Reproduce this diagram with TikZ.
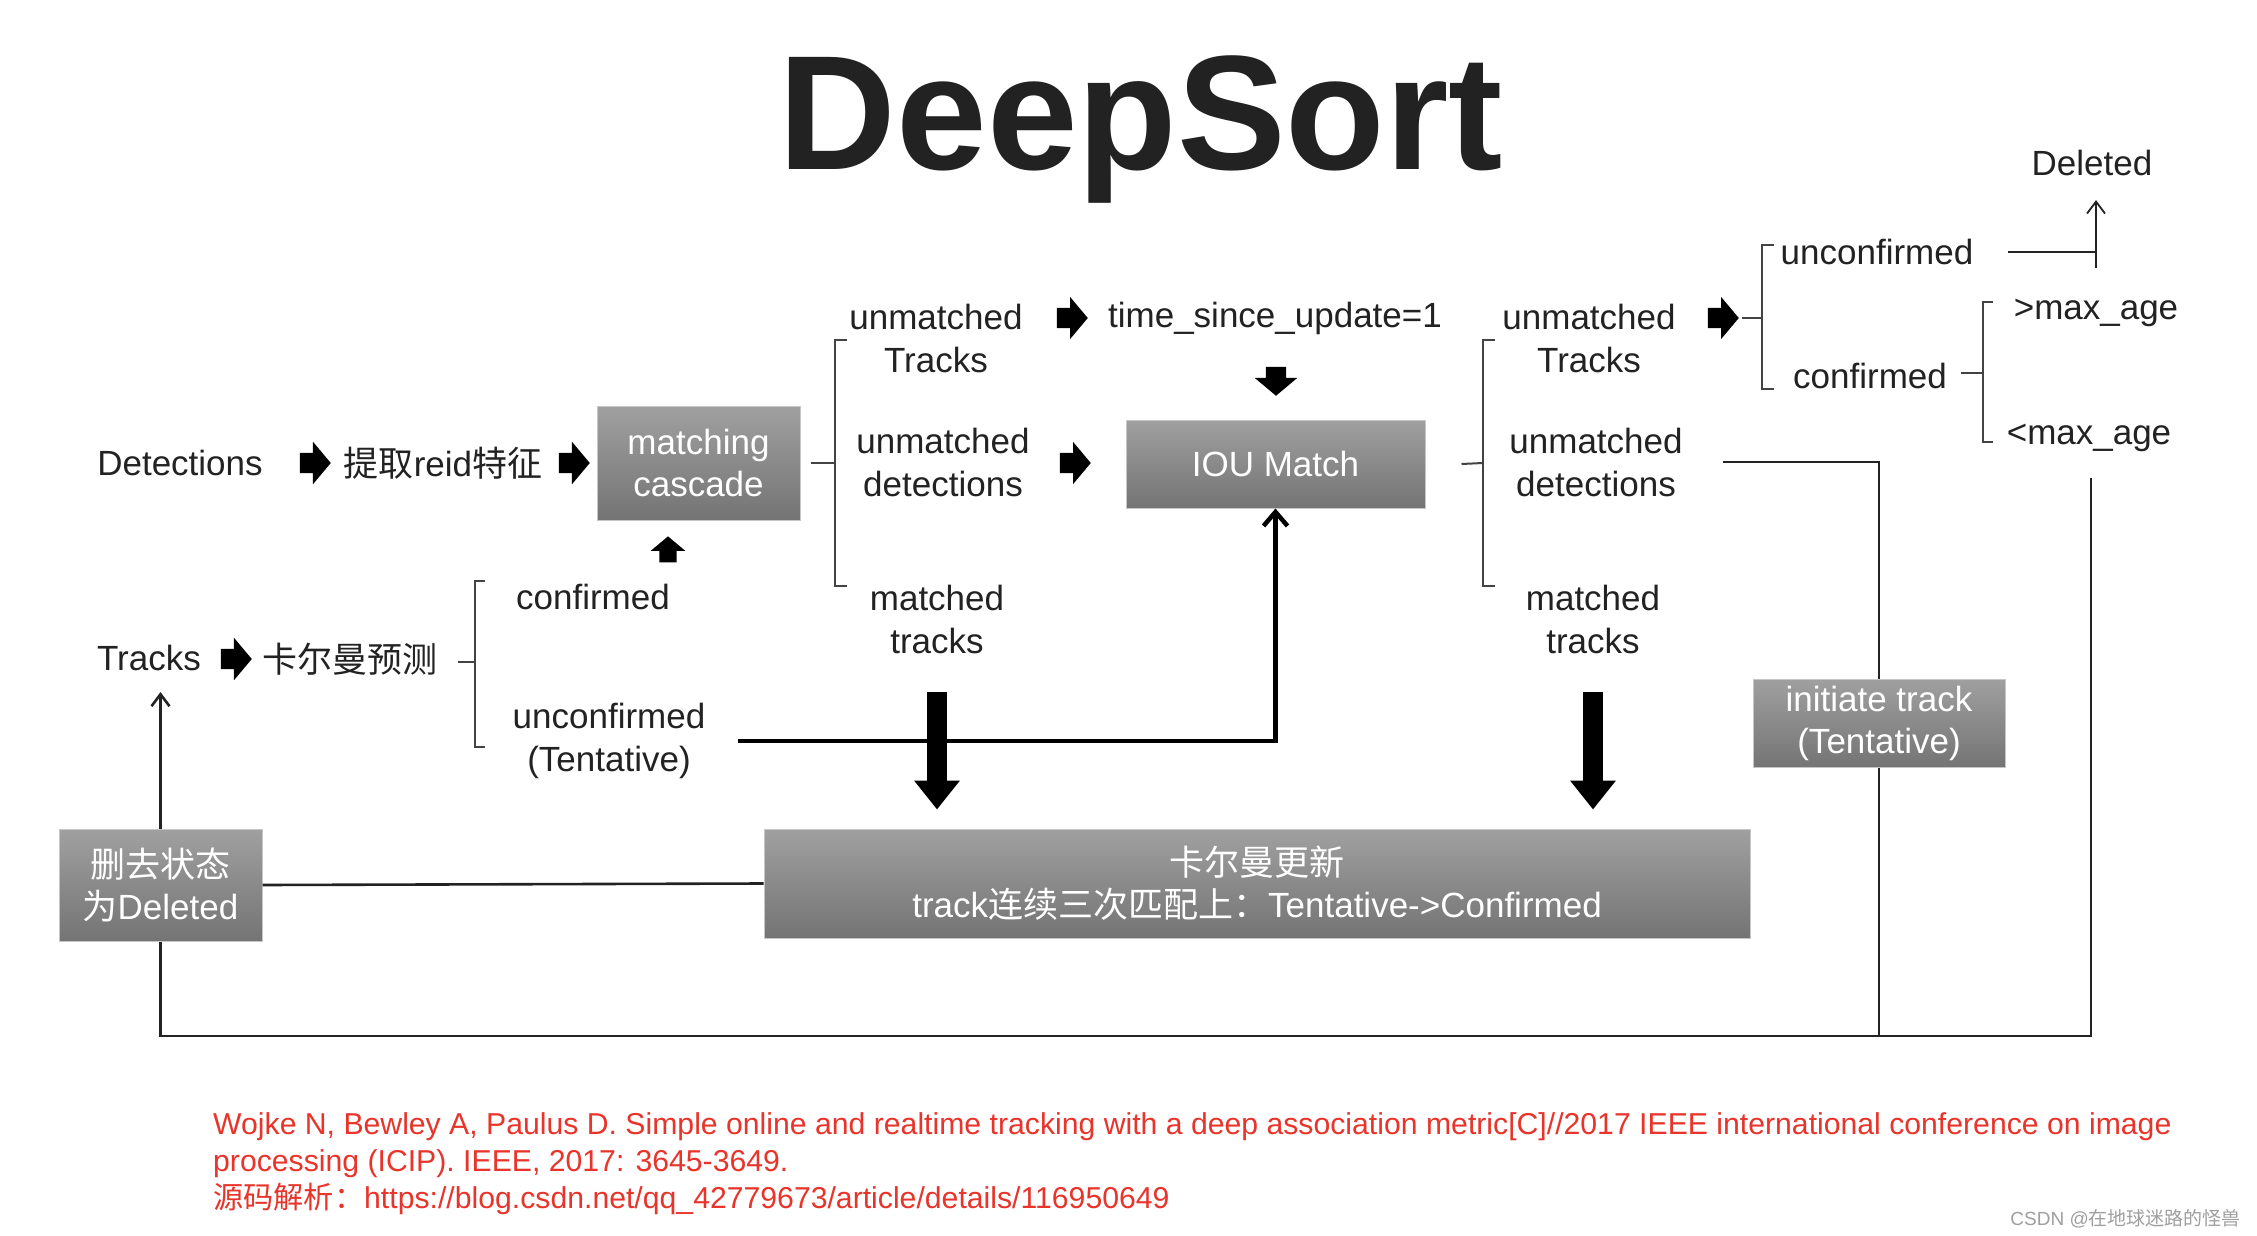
\documentclass[tikz,border=0pt]{standalone}
\usepackage{fontspec}
\setmainfont{Liberation Sans}
\newfontfamily\cjk{Noto Sans CJK SC}
\usetikzlibrary{shapes.arrows,arrows.meta}
\definecolor{txt}{RGB}{34,34,34}
\definecolor{boxtop}{RGB}{160,160,160}
\definecolor{boxbot}{RGB}{116,116,116}
\definecolor{refred}{RGB}{232,52,42}
\tikzset{
  lbl/.style={text=txt, font=\fontsize{35}{43}\selectfont, align=center, inner sep=0pt},
  gbox/.style={top color=boxtop, bottom color=boxbot, draw=boxtop!60!white, line width=1pt,
    text=white, font=\fontsize{35}{42}\selectfont, align=center, inner sep=0pt},
  rarrow/.style={single arrow, fill=black, draw=none, inner sep=0pt, minimum height=31pt,
    single arrow head extend=11pt, single arrow tip angle=100},
  brk/.style={line width=2pt, draw=txt!85!white},
  fat/.style={line width=20pt, draw=black, -{Triangle[width=44pt,length=29pt]}},
  flow/.style={line width=2.6pt, draw=txt},
  thinflow/.style={line width=1.8pt, draw=txt},
  barb/.style={-{Straight Barb[length=12pt,width=18pt]}},
  heavy/.style={line width=4.5pt, draw=black, -{Straight Barb[length=14pt,width=24pt]}}
}
\newcommand{\shaft}[1]{\rule{0pt}{#1}}
\begin{document}
\begin{tikzpicture}[x=1pt,y=-1pt]
\useasboundingbox (0,0) rectangle (2257,1236);
\fill[white] (0,0) rectangle (2257,1236);

\node[font=\fontsize{163}{165}\selectfont\bfseries, text=txt, anchor=base, inner sep=0pt] (title) at (1141,170) {DeepSort};

% row 1
\node[lbl] (det) at (180,463) {Detections};
\node[rarrow] (a1) at (311,463) {\shaft{20pt}};
\node[lbl] (reid) at (443,463) {{\cjk 提取}reid{\cjk 特征}};
\node[rarrow] (a2) at (570,463) {\shaft{20pt}};
\node[gbox, minimum width=203pt, minimum height=114pt] (mc) at (698.5,463) {matching\\cascade};

\draw[brk] ([xshift=10pt]mc.east) -- (835,463);
\draw[brk] (847,340) -- (835,340) -- (835,586) -- (847,586);

\node[lbl] (ut1) at (936,338) {unmatched\\Tracks};
\node[rarrow] (a3) at (1068,318) {\shaft{20pt}};
\node[lbl] (tsu) at (1275,318) {time\_since\_update=1};
\node[rarrow, minimum height=29pt, rotate=270] (a4) at (1276,377) {\shaft{20pt}};
\node[lbl] (ud1) at (943,462) {unmatched\\detections};
\node[rarrow] (a5) at (1071,463) {\shaft{20pt}};
\node[gbox, minimum width=299pt, minimum height=88pt] (iou) at (1275.5,464) {IOU Match};
\node[lbl] (mt1) at (937,619) {matched\\tracks};
\node[rarrow, single arrow head extend=8.5pt, minimum height=26pt, rotate=90] (a6) at (668,553) {\shaft{17pt}};

% tracks row
\node[lbl] (tracks) at (149,658) {Tracks};
\node[rarrow] (a7) at (232,659) {\shaft{20pt}};
\node[lbl] (kp) at (350,659) {\cjk 卡尔曼预测};
\draw[brk] (458,662) -- (475,662);
\draw[brk] (485,581) -- (475,581) -- (475,747) -- (485,747);
\node[lbl] (cf1) at (593,597) {confirmed};
\node[lbl] (uc1) at (609,741) {unconfirmed\\(Tentative)};

\draw[heavy] ([xshift=32pt]uc1.east) -| (iou.south);

% second group
\draw[brk] ([xshift=36pt]iou.east) -- (1483,463);
\draw[brk] (1495,340) -- (1483,340) -- (1483,586) -- (1495,586);
\node[lbl] (ut2) at (1589,338) {unmatched\\Tracks};
\node[rarrow] (a8) at (1719,318) {\shaft{20pt}};
\draw[brk] (1742,318) -- (1762,318);
\draw[brk] (1774,245) -- (1762,245) -- (1762,389) -- (1774,389);
\node[lbl] (uc2) at (1877,252) {unconfirmed};
\node[lbl] (cf2) at (1870,376) {confirmed};
\draw[brk] (1961,373) -- (1983,373);
\draw[brk] (1993,302) -- (1983,302) -- (1983,442) -- (1993,442);
\node[lbl] (gt) at (2096,313) {>max\_age};
\node[lbl] (lt) at (2089,438) {<max\_age};
\node[lbl] (deleted) at (2092,163) {Deleted};

\coordinate (dj) at (2096,268);
\draw[thinflow] ([xshift=34pt]uc2.east) -- (uc2.east -| dj);
\draw[thinflow, barb, shorten >=24pt] (dj) -- (dj |- deleted.south);

\node[lbl] (ud2) at (1596,462) {unmatched\\detections};
\node[lbl] (mt2) at (1593,619) {matched\\tracks};

% boxes
\node[gbox, minimum width=252pt, minimum height=88pt] (init) at (1879,723) {initiate track\\(Tentative)};
\node[gbox, minimum width=986pt, minimum height=109pt] (kal) at (1257,883.5) {{\cjk 卡尔曼更新}\\track{\cjk 连续三次匹配上：}Tentative->Confirmed};
\node[gbox, minimum width=203pt, minimum height=112pt] (del) at (160.5,885) {{\cjk 删去状态}\\{\cjk 为}Deleted};

% fat arrows
\draw[fat, shorten <=38pt, shorten >=19pt] (mt1.south) -- (mt1.south |- kal.north);
\draw[fat, shorten <=38pt, shorten >=19pt] (mt2.south) -- (mt2.south |- kal.north);

% loops
\coordinate (bl) at (161,1036);
\coordinate (br) at (2091,1036);
\coordinate (brt) at (2091,478);
\draw[flow] ([xshift=40pt]ud2.east) -| (init.north);
\draw[flow] (init.south) -- (init.south |- bl);
\draw[flow] (brt) -- (br) -| (del.south);
\draw[flow] (kal.west) -- (del.east);
\draw[flow, barb, shorten >=21pt] (del.north) -- (del.north |- tracks.south);

% reference
\node[anchor=north west, align=left, inner sep=0pt, text=refred, font=\fontsize{30.2}{37}\selectfont] (ref) at (213,1112)
 {Wojke N, Bewley A, Paulus D. Simple online and realtime tracking with a deep association metric[C]//2017 IEEE international conference on image\\
  processing (ICIP). IEEE, 2017: 3645-3649.\\
  {\cjk 源码解析：}https://blog.csdn.net/qq\_42779673/article/details/116950649};
\node[anchor=base east, inner sep=0pt, text=gray!75, font=\fontsize{19}{20}\selectfont] (wm) at (2241,1225) {CSDN @{\cjk 在地球迷路的怪兽}};
\end{tikzpicture}
\end{document}
